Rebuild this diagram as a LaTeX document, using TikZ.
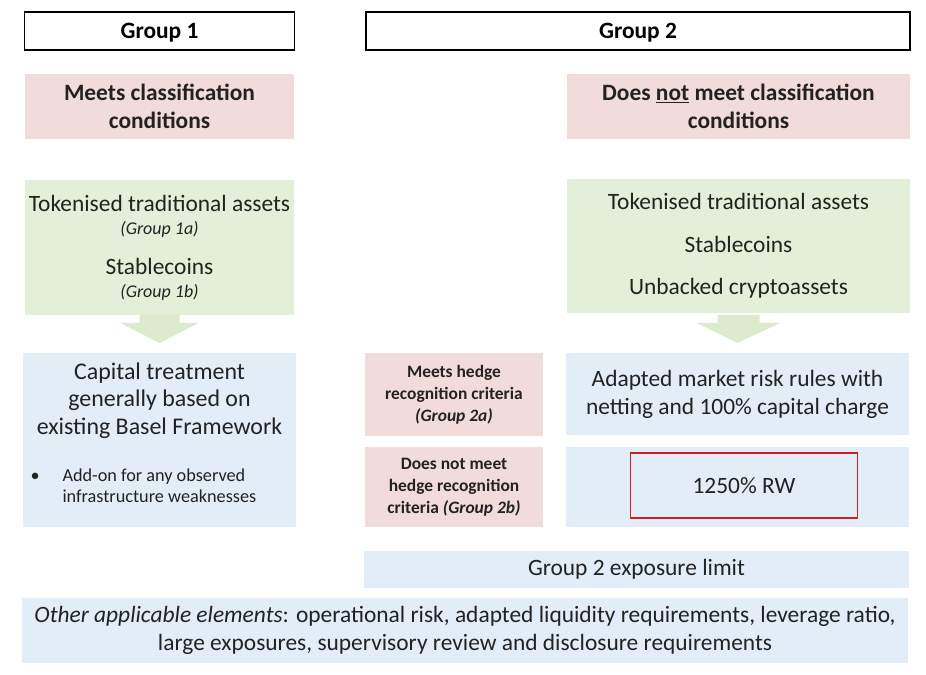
\documentclass[tikz,border=0pt]{standalone}
\usepackage{fontspec}
\setmainfont{Carlito}
\usetikzlibrary{positioning, calc}

\definecolor{pinkfill}{HTML}{F2DCDB}
\definecolor{greenfill}{HTML}{E3EFD8}
\definecolor{bluefill}{HTML}{E2EDF7}
\definecolor{flowgreen}{HTML}{DCEBCD}
\definecolor{rwred}{HTML}{CC1F28}
\definecolor{ink}{HTML}{222222}
\newcommand{\fsz}[2]{\fontsize{#1}{#2}\selectfont}

\begin{document}
\begin{tikzpicture}[
    x=1bp, y=-1bp,
    header/.style={
        rectangle,
        draw=black,
        line width=1.4pt,
        minimum height=38,
        text depth=0pt,
        font=\fsz{23.5}{25}\bfseries
    },
    cond/.style={rectangle, fill=pinkfill, minimum height=65, align=center, text=ink, font=\fsz{23.5}{28}\bfseries},
    assets/.style={rectangle, fill=greenfill, minimum height=135, align=center, text=ink},
    treat/.style={rectangle, fill=bluefill, align=center, text=ink, font=\fsz{23.5}{28}},
    hedge/.style={rectangle, fill=pinkfill, minimum width=178, align=center, text=ink, font=\fsz{17.5}{22}\bfseries},
    flow/.style={fill=flowgreen}
]
\useasboundingbox (0,0) rectangle (926,675);

% === Headers ===
\node[header, minimum width=271] (grp1) at (159.5, 31) {Group 1};
\node[header, minimum width=546] (grp2) at (638, 31) {Group 2};

% === Classification conditions ===
\node[cond, minimum width=271] (meets) at (159.5, 106.5) {Meets classification\\conditions};
\node[cond, minimum width=345] (notmeets) at (738.5, 106.5) {Does \underline{not} meet classification\\conditions};

% === Asset types ===
\node[assets, minimum width=271, font=\fsz{23.5}{23}] (g1) at (159.5, 247.5)
    {Tokenised traditional assets\\{\fsz{18}{23}\itshape (Group 1a)}\\[17bp]Stablecoins\\{\fsz{18}{23}\itshape (Group 1b)}};
\node[assets, minimum width=345, font=\fsz{23.5}{42.5}] (g2) at (738.5, 246)
    {Tokenised traditional assets\\Stablecoins\\Unbacked cryptoassets};

% === Treatment ===
\node[treat, minimum width=275, minimum height=174] (cap) at (159.5, 440) {};
\node[text=ink, align=center, font=\fsz{24}{27.5}] (captxt) at (cap.north) [below=6bp of cap.north] {Capital treatment\\generally based on\\existing Basel Framework};
\node[text=ink, align=left, font=\fsz{18.3}{21}, anchor=north west] (addon) at (27, 465)
    {\makebox[32bp][l]{\textbullet}Add-on for any observed\\\hspace*{32bp}infrastructure weaknesses};

\node[hedge, minimum height=83] (h2a) at (454, 394.5) {Meets hedge\\recognition criteria\\\textit{(Group 2a)}};
\node[hedge, minimum height=80] (h2b) at (454, 487) {Does not meet\\hedge recognition\\criteria \textit{(Group 2b)}};

\node[treat, minimum width=345, minimum height=82] (mkt) at (737.5, 394) {Adapted market risk rules with\\netting and 100\% capital charge};
\node[treat, minimum width=345, minimum height=80] (rwbox) at (737.5, 487) {};
\node[draw=rwred, line width=1.8pt, minimum width=228, minimum height=65, text=ink, font=\fsz{23.5}{25}] (rw) at (744, 485.5) {1250\% RW};

% === Limits and other elements ===
\node[treat, minimum width=547, minimum height=37] (limit) at (636.5, 569.5) {Group 2 exposure limit};
\node[treat, minimum width=890, minimum height=65] (other) at (465, 630.5)
    {\textit{Other applicable elements}: operational risk, adapted liquidity requirements, leverage ratio,\\large exposures, supervisory review and disclosure requirements};

% Block arrows
\fill[flow] ($(g1.south)+(-20,0)$) -- ($(g1.south)+(20,0)$) -- ($(g1.south)+(20,8)$) -- ($(g1.south)+(39,8)$)
    -- ($(cap.north)+(0,-10)$) -- ($(g1.south)+(-39,8)$) -- ($(g1.south)+(-20,8)$) -- cycle;
\fill[flow] ($(g2.south)+(-21,1.5)$) -- ($(g2.south)+(21,1.5)$) -- ($(g2.south)+(21,9.5)$) -- ($(g2.south)+(42,9.5)$)
    -- ($(mkt.north)+(0,-10)$) -- ($(g2.south)+(-42,9.5)$) -- ($(g2.south)+(-21,9.5)$) -- cycle;

\end{tikzpicture}
\end{document}
